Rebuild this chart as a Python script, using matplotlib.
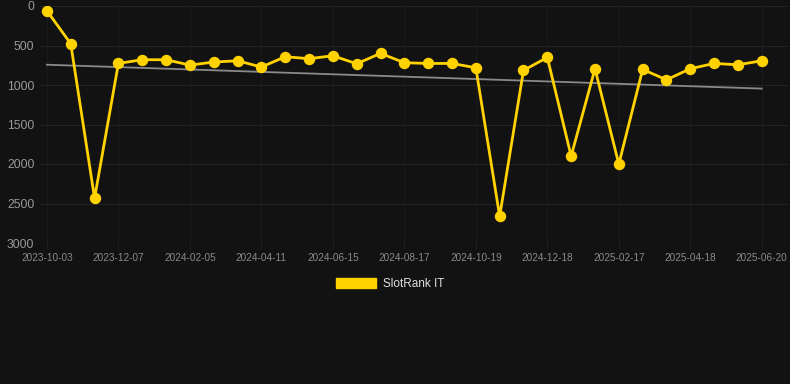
import matplotlib
matplotlib.use("Agg")
import matplotlib.pyplot as plt
import numpy as np
from matplotlib.patches import Patch

plt.rcParams["font.family"] = ["Liberation Sans", "DejaVu Sans"]

# SlotRank IT, one point every ~3 weeks (category axis)
dates = ["2023-10-03", "2023-10-25", "2023-11-16", "2023-12-07", "2023-12-27",
         "2024-01-16", "2024-02-05", "2024-02-27", "2024-03-20", "2024-04-11",
         "2024-05-03", "2024-05-24", "2024-06-15", "2024-07-06", "2024-07-27",
         "2024-08-17", "2024-09-07", "2024-09-28", "2024-10-19", "2024-11-08",
         "2024-11-28", "2024-12-18", "2025-01-07", "2025-01-27", "2025-02-17",
         "2025-03-09", "2025-03-29", "2025-04-18", "2025-05-09", "2025-05-30",
         "2025-06-20"]
rank = [60, 478, 2433, 727, 680, 680, 748, 710, 693, 773,
        642, 667, 630, 731, 600, 718, 727, 727, 782, 2662,
        815, 651, 1901, 794, 2002, 803, 934, 794, 727, 744,
        693]

bg = "#121212"
gold = "#FFD200"

fig = plt.figure(figsize=(7.9, 3.84), dpi=100, facecolor=bg)
ax = fig.add_axes([40 / 790, 1 - 243 / 384, 748 / 790, 237 / 384])
ax.set_facecolor(bg)

x = np.arange(len(dates))
ax.plot(x, rank, color=gold, linewidth=2.0, marker="o", markersize=7.2, zorder=3)

# linear trend
k, b = np.polyfit(x, rank, 1)
ax.plot(x, k * x + b, color="#8a8a8a", linewidth=1.3, zorder=2)

ax.set_ylim(3000, 0)
ax.set_xlim(-0.29, len(dates) - 1 + 1.1)
ax.set_yticks([0, 500, 1000, 1500, 2000, 2500, 3000])
ax.set_xticks(x[::3])
ax.set_xticklabels(dates[::3])

ax.grid(axis="y", color="#222222", linewidth=0.8)
ax.grid(axis="x", color="#1b1b1b", linewidth=0.8)
ax.set_axisbelow(True)
for s in ax.spines.values():
    s.set_visible(False)
ax.tick_params(axis="y", colors="#9a9a9a", labelsize=8.8, length=0, pad=4)
ax.tick_params(axis="x", colors="#8a8a8a", labelsize=7.2, length=4, width=0.8,
               color="#1e1e1e", pad=3)

handle = Patch(facecolor=gold, edgecolor=gold)
fig.legend([handle], ["SlotRank IT"], loc="center", bbox_to_anchor=(390 / 790, 1 - 284 / 384),
           frameon=False, fontsize=8.5, labelcolor="#e0e0e0",
           handlelength=3.4, handleheight=1.0, handletextpad=0.6)

fig.savefig("out.png", dpi=100, facecolor=bg)
